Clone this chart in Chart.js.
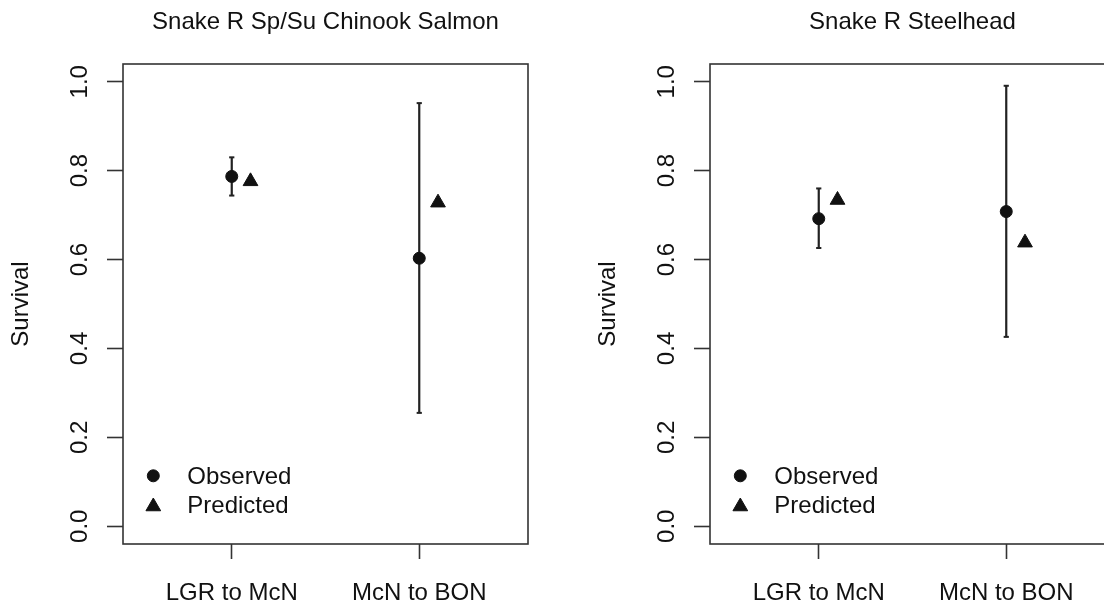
<!DOCTYPE html>
<html>
<head>
<meta charset="utf-8">
<script src="https://cdn.jsdelivr.net/npm/chart.js@4.4.0/dist/chart.umd.min.js"></script>
<style>
  html, body { margin: 0; padding: 0; background: #fff; overflow: hidden; width: 1104px; height: 603px; }
  canvas { position: absolute; top: 0; }
  #chinook { left: 0; }
  #steelhead { left: 587px; }
</style>
</head>
<body>
<canvas id="chinook" width="587" height="603"></canvas>
<canvas id="steelhead" width="587" height="603"></canvas>
<script>
// Data
var categories = ["LGR to McN", "McN to BON"];
var categoryX = [1, 2];
var predictedOffset = 0.1;
var seriesLabels = ["Observed", "Predicted"];

var chinookTitle = "Snake R Sp/Su Chinook Salmon";
var chinookObserved = [0.787, 0.603];
var chinookLower = [0.744, 0.255];
var chinookUpper = [0.830, 0.952];
var chinookPredicted = [0.776, 0.728];

var steelheadTitle = "Snake R Steelhead";
var steelheadObserved = [0.692, 0.708];
var steelheadLower = [0.626, 0.426];
var steelheadUpper = [0.760, 0.991];
var steelheadPredicted = [0.734, 0.638];

var yTicks = [0, 0.2, 0.4, 0.6, 0.8, 1.0];
var yTickLabels = ["0.0", "0.2", "0.4", "0.6", "0.8", "1.0"];
var yLabel = "Survival";


Chart.defaults.font.family = "'Liberation Sans', Arial, Helvetica, sans-serif";
Chart.defaults.font.size = 24;
Chart.defaults.color = "#111";

var ink = "#111";
var axisGray = "#333";

// Box round the plot region, like R's box()
var boxPlugin = {
    id: "box",
    beforeDatasetsDraw: function (chart) {
        var a = chart.chartArea;
        var ctx = chart.ctx;
        ctx.save();
        ctx.strokeStyle = axisGray;
        ctx.lineWidth = 1.6;
        ctx.strokeRect(a.left, a.top, a.right - a.left, a.bottom - a.top);
        ctx.restore();
    }
};

// Legend in the lower left corner of the plot region
var cornerLegend = {
    id: "cornerLegend",
    afterDraw: function (chart) {
        var a = chart.chartArea;
        var ctx = chart.ctx;
        ctx.save();
        [0, 1].forEach(function (i) {
            var ds = chart.data.datasets[i];
            var baseY = a.bottom - 59.7 + i * 28.2;
            var markY = i === 0 ? baseY - 8.5 : baseY - 6;
            ctx.fillStyle = ink;
            ctx.strokeStyle = ink;
            Chart.helpers.drawPoint(ctx, {
                pointStyle: ds.pointStyle,
                radius: ds.pointRadius,
                rotation: 0,
                borderWidth: 1
            }, a.left + 30.3, markY);
            ctx.font = "24px 'Liberation Sans', Arial, sans-serif";
            ctx.textBaseline = "alphabetic";
            ctx.textAlign = "left";
            ctx.fillText(ds.label, a.left + 64.3, baseY);
        });
        ctx.restore();
    }
};

function makePanel(canvasId, title, observed, lower, upper, predicted) {
    var obsPoints = categoryX.map(function (x, i) { return {x: x, y: observed[i]}; });
    var predPoints = categoryX.map(function (x, i) { return {x: x + predictedOffset, y: predicted[i]}; });
    var barPoints = [];
    categoryX.forEach(function (x, i) {
        if (i > 0) barPoints.push({x: x - 0.5, y: null});
        barPoints.push({x: x, y: lower[i]});
        barPoints.push({x: x, y: upper[i]});
    });

    var ctx = document.getElementById(canvasId).getContext("2d");
    return new Chart(ctx, {
        type: "scatter",
        data: {
            datasets: [{
                label: seriesLabels[0],
                data: obsPoints,
                pointStyle: "circle",
                pointRadius: 6,
                pointBorderWidth: 1,
                backgroundColor: ink,
                borderColor: ink
            },
            {
                label: seriesLabels[1],
                data: predPoints,
                pointStyle: "triangle",
                pointRadius: 8.5,
                pointBorderWidth: 1,
                backgroundColor: ink,
                borderColor: ink
            },
            {
                label: "interval",
                data: barPoints,
                showLine: true,
                spanGaps: false,
                borderColor: "#222",
                borderWidth: 2.2,
                pointStyle: "line",
                pointRadius: 2.6,
                pointBorderWidth: 2,
                pointBorderColor: "#222"
            }]
        },
        options: {
            responsive: false,
            animation: false,
            events: [],
            layout: {
                padding: {left: 0, right: 59, top: 0, bottom: 0}
            },
            plugins: {
                legend: {display: false},
                tooltip: {enabled: false},
                title: {
                    display: true,
                    text: title,
                    fullSize: false,
                    color: ink,
                    font: {size: 24, weight: "normal", lineHeight: 1.2},
                    padding: {top: 7.6, bottom: 27.6}
                }
            },
            scales: {
                x: {
                    type: "linear",
                    position: "bottom",
                    min: 0.42,
                    max: 2.58,
                    afterBuildTicks: function (scale) {
                        scale.ticks = categoryX.map(function (v) { return {value: v}; });
                    },
                    afterFit: function (scale) { scale.height = 59; },
                    ticks: {
                        color: ink,
                        padding: 20,
                        maxRotation: 0,
                        autoSkip: false,
                        callback: function (value) {
                            return categories[categoryX.indexOf(value)];
                        }
                    },
                    grid: {
                        drawOnChartArea: false,
                        drawTicks: true,
                        tickLength: 15,
                        tickWidth: 1.6,
                        tickColor: axisGray
                    },
                    border: {display: false}
                },
                y: {
                    type: "linear",
                    position: "left",
                    min: -0.04,
                    max: 1.04,
                    afterBuildTicks: function (scale) {
                        scale.ticks = yTicks.map(function (v) { return {value: v}; });
                    },
                    afterFit: function (scale) { scale.width = 123; },
                    ticks: {
                        color: ink,
                        minRotation: 90,
                        maxRotation: 90,
                        crossAlign: "center",
                        padding: 10,
                        autoSkip: false,
                        callback: function (value) {
                            return yTickLabels[yTicks.indexOf(value)];
                        }
                    },
                    title: {
                        display: true,
                        text: yLabel,
                        color: ink,
                        font: {size: 24, lineHeight: 1.2},
                        padding: {top: 6.5, bottom: 0}
                    },
                    grid: {
                        drawOnChartArea: false,
                        drawTicks: true,
                        tickLength: 16,
                        tickWidth: 1.6,
                        tickColor: axisGray
                    },
                    border: {display: false}
                }
            }
        },
        plugins: [boxPlugin, cornerLegend]
    });
}

makePanel("chinook", chinookTitle, chinookObserved, chinookLower, chinookUpper, chinookPredicted);
makePanel("steelhead", steelheadTitle, steelheadObserved, steelheadLower, steelheadUpper, steelheadPredicted);
</script>
</body>
</html>
